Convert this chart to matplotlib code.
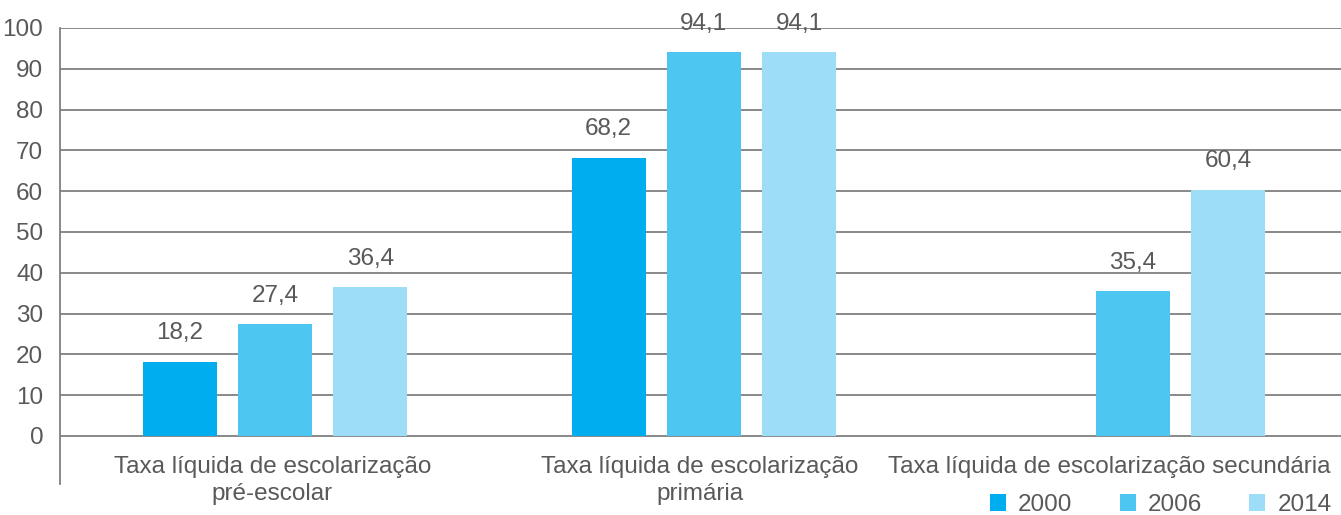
import matplotlib
matplotlib.use("Agg")
import matplotlib.pyplot as plt
import numpy as np

categories = ["Taxa líquida de escolarização\npré-escolar",
              "Taxa líquida de escolarização\nprimária",
              "Taxa líquida de escolarização secundária"]
years = ["2000", "2006", "2014"]
v2000 = [18.2, 68.2, None]
v2006 = [27.4, 94.1, 35.4]
v2014 = [36.4, 94.1, 60.4]
colors = ["#00AEEF", "#4DC6F1", "#9EDDF7"]
yticks = [0, 10, 20, 30, 40, 50, 60, 70, 80, 90, 100]

plt.rcParams['font.family'] = ['Liberation Sans', 'DejaVu Sans']
txt = "#595959"
grid = "#808080"
fs = 17.5

fig = plt.figure(figsize=(13.41, 5.15), dpi=100)
ax = fig.add_axes([60/1341, 1-484/515, 1-60/1341, (484-28)/515])

x = np.arange(len(categories))
width = 0.173
step = 0.222
series = [v2000, v2006, v2014]
for i, (vals, c, lab) in enumerate(zip(series, colors, years)):
    xs = x + (i-1)*step
    hv = [v if v is not None else 0 for v in vals]
    ax.bar(xs, hv, width=width, color=c, label=lab, zorder=3)
    for xi, v in zip(xs, vals):
        if v is not None:
            ax.text(xi, v + 4.3, f"{v:.1f}".replace(".", ","), ha="center", va="bottom",
                    fontsize=fs, color=txt)

ax.set_xlim(-0.501, 2.485)
ax.set_ylim(-11.8, 100)
ax.set_yticks(yticks)
ax.set_yticklabels([str(t) for t in yticks], fontsize=fs, color=txt)
ax.tick_params(axis='y', length=0, pad=12)
ax.set_xticks([])
ax.yaxis.grid(True, color=grid, linewidth=1.3, zorder=0)
for s in ["top", "right", "bottom"]:
    ax.spines[s].set_visible(False)
ax.spines["left"].set_color(grid)
ax.spines["left"].set_linewidth(1.3)

label_x = [-0.006, 0.99, 1.945]
for lx, cat in zip(label_x, categories):
    ax.text(lx, -4.9, cat, ha="center", va="top", fontsize=fs, color=txt, linespacing=1.3)

leg = fig.legend(loc="center left", bbox_to_anchor=(990/1341, 1-505/515), ncol=3, frameon=False,
                 fontsize=fs, handlelength=0.65, handleheight=0.65, columnspacing=1.95,
                 handletextpad=0.5, labelcolor=txt, borderpad=0, borderaxespad=0)

fig.savefig("out.png", dpi=100)
